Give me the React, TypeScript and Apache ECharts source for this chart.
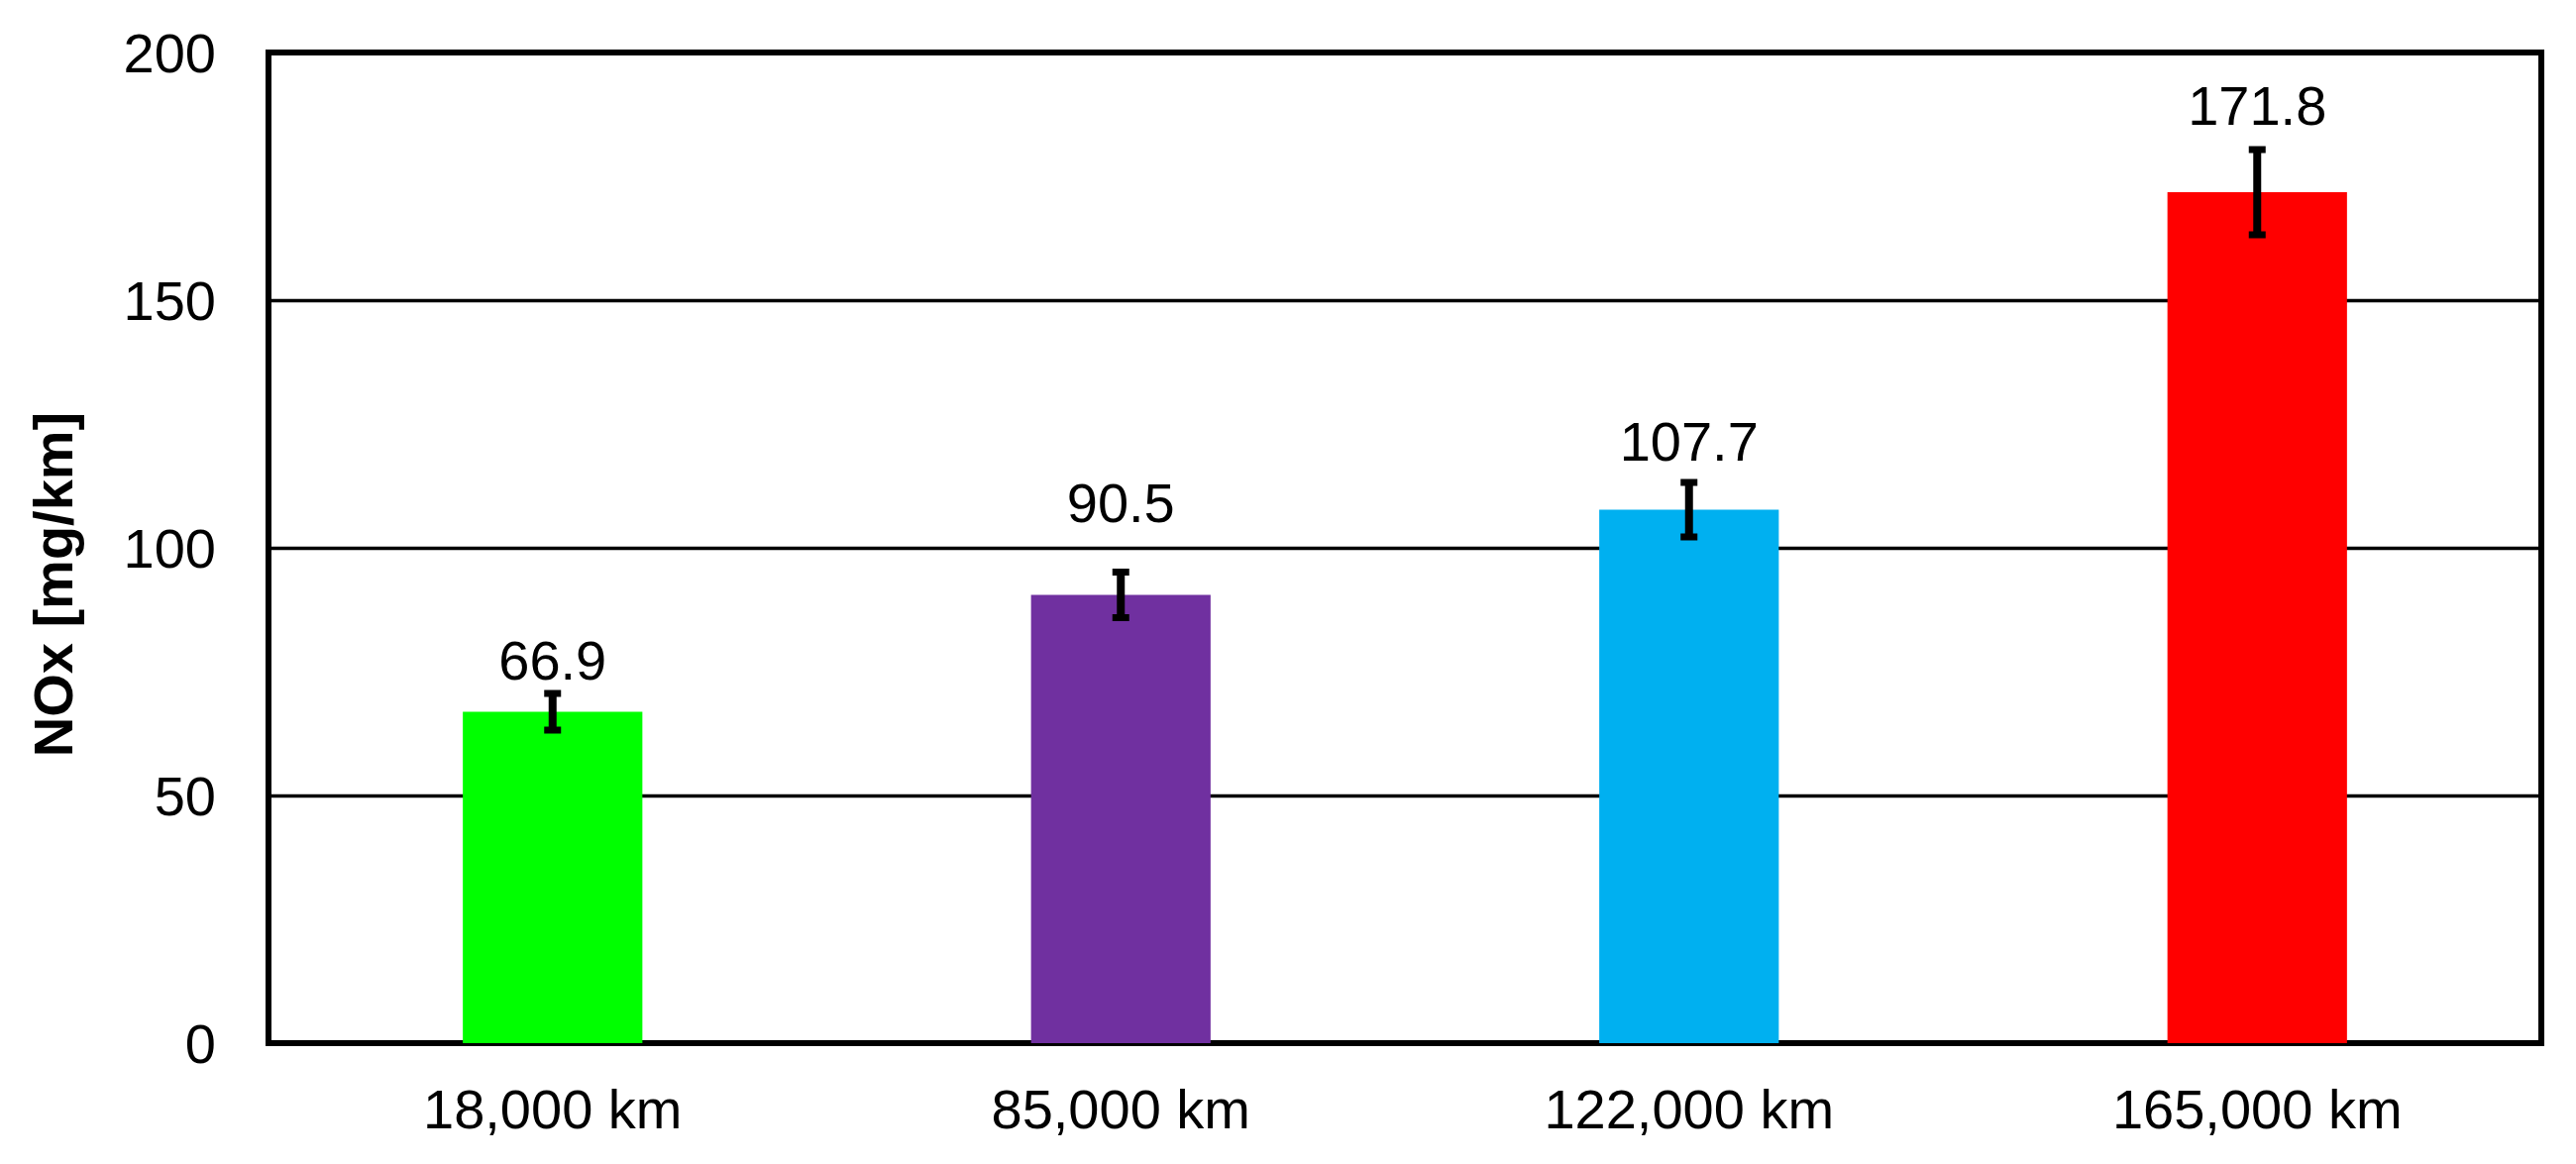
import React, { useEffect, useRef } from "react";
import * as echarts from "echarts";

const categories = ["18,000 km", "85,000 km", "122,000 km", "165,000 km"];
const values = [66.9, 90.5, 107.7, 171.8];
const errors = [3.7, 4.6, 5.5, 8.6];
const barColors = ["#00FF00", "#7030A0", "#00B0F0", "#FF0000"];
const labelGaps = [24, 65, 41, 60];
const yTicks = { min: 0, max: 200, interval: 50 };
const yTitle = "NOx [mg/km]";

const FONT = "'Liberation Sans', Arial, sans-serif";

export default function App() {
  const ref = useRef<HTMLDivElement>(null);
  useEffect(() => {
    if (!ref.current) return;
    const chart = echarts.init(ref.current, null, { renderer: "svg" });
    const errData = values.map((v, i) => [i, v - errors[i], v + errors[i]]);
    chart.setOption({
      animation: false,
      backgroundColor: "#ffffff",
      grid: {
        left: 271,
        right: 35,
        top: 53,
        bottom: 122,
        show: true,
        borderColor: "#000",
        borderWidth: 6,
        backgroundColor: "transparent",
      },
      xAxis: {
        type: "category",
        data: categories,
        axisLine: { show: true, lineStyle: { color: "#000", width: 6 } },
        axisTick: { show: false },
        axisLabel: {
          color: "#000",
          fontFamily: FONT,
          fontSize: 56,
          margin: 38,
        },
      },
      yAxis: {
        type: "value",
        min: yTicks.min,
        max: yTicks.max,
        interval: yTicks.interval,
        axisLine: { show: false },
        axisTick: { show: false },
        splitLine: { show: true, lineStyle: { color: "#000", width: 3.3 } },
        axisLabel: {
          color: "#000",
          fontFamily: FONT,
          fontSize: 56,
          margin: 53,
        },
      },
      graphic: [
        {
          type: "text",
          x: 53,
          y: 590,
          rotation: Math.PI / 2,
          style: {
            text: yTitle,
            fontFamily: FONT,
            fontSize: 56,
            fontWeight: "bold",
            fill: "#000",
            align: "center",
            verticalAlign: "middle",
          },
        },
      ],
      series: [
        {
          type: "bar",
          barWidth: "31.6%",
          data: values.map((v, i) => ({
            value: v,
            itemStyle: { color: barColors[i] },
            label: {
              show: true,
              position: "top",
              distance: labelGaps[i],
              formatter: (p: any) => p.value.toFixed(1),
              color: "#000",
              fontFamily: FONT,
              fontSize: 56,
            },
          })),
          z: 2,
        },
        {
          type: "custom",
          data: errData,
          z: 5,
          renderItem: (params: any, api: any) => {
            const idx = api.value(0);
            const lo = api.coord([idx, api.value(1)]);
            const hi = api.coord([idx, api.value(2)]);
            const x = hi[0];
            const stemW = 8;
            const capW = 17;
            const capH = 7;
            const style = { fill: "#000" };
            return {
              type: "group",
              children: [
                {
                  type: "rect",
                  shape: { x: x - stemW / 2, y: hi[1], width: stemW, height: lo[1] - hi[1] },
                  style,
                },
                {
                  type: "rect",
                  shape: { x: x - capW / 2, y: hi[1] - capH / 2, width: capW, height: capH },
                  style,
                },
                {
                  type: "rect",
                  shape: { x: x - capW / 2, y: lo[1] - capH / 2, width: capW, height: capH },
                  style,
                },
              ],
            };
          },
        },
      ],
    });
    return () => chart.dispose();
  }, []);
  return (
    <div
      ref={ref}
      style={{ position: "fixed", left: 0, top: 0, width: 2600, height: 1175, background: "#fff" }}
    />
  );
}
